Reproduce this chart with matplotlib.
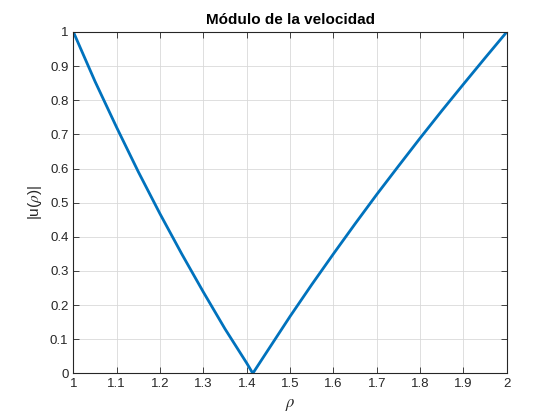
import numpy as np
import matplotlib
matplotlib.use("Agg")
import matplotlib.pyplot as plt
from matplotlib.ticker import FuncFormatter

# values
rho = [1.00, 1.05, 1.10, 1.15, 1.20, 1.25, 1.30, 1.35, 1.40, 1.414,
       1.45, 1.50, 1.55, 1.60, 1.65, 1.70, 1.75, 1.80, 1.85, 1.90, 1.95, 2.00]
u_abs = [1.00, 0.855, 0.72, 0.59, 0.467, 0.35, 0.238, 0.13, 0.03, 0.0,
         0.07, 0.167, 0.26, 0.35, 0.438, 0.524, 0.607, 0.689, 0.769, 0.847, 0.924, 1.00]
xticks = [1, 1.1, 1.2, 1.3, 1.4, 1.5, 1.6, 1.7, 1.8, 1.9, 2]
yticks = [0, 0.1, 0.2, 0.3, 0.4, 0.5, 0.6, 0.7, 0.8, 0.9, 1]

plt.rcParams["font.family"] = ["Liberation Sans", "DejaVu Sans"]
plt.rcParams["mathtext.fontset"] = "stix"

fig = plt.figure(figsize=(5.6, 4.2), dpi=100)
ax = fig.add_axes([0.131, 0.111, 0.774, 0.813])

ax.plot(rho, u_abs, color="#0072BD", lw=2.0, solid_joinstyle="miter")

ax.set_xlim(1, 2)
ax.set_ylim(0, 1)
ax.set_xticks(xticks)
ax.set_yticks(yticks)
fmt = FuncFormatter(lambda v, p: f"{v:g}")
ax.xaxis.set_major_formatter(fmt)
ax.yaxis.set_major_formatter(fmt)
ax.tick_params(direction="in", length=4, width=0.6, labelsize=9.5,
               colors="#262626", top=True, right=True, labeltop=False, labelright=False)
ax.grid(True, color="#d9d9d9", lw=0.6)
ax.set_axisbelow(True)
for s in ax.spines.values():
    s.set_linewidth(0.8)
    s.set_color("#262626")

ax.set_title("Módulo de la velocidad", fontsize=11, fontweight="bold", color="#000000", pad=6)
ax.set_xlabel(r"$\rho$", fontsize=12, color="#262626", labelpad=5)
ax.set_ylabel(r"|u($\rho$)|", fontsize=11, color="#262626", labelpad=4)

fig.savefig("out.png", dpi=100, facecolor="white")
